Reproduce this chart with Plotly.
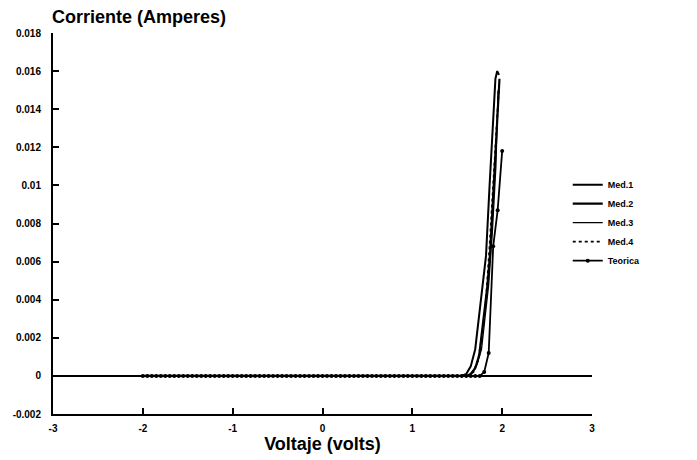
import plotly.graph_objects as go

# ---- data ----
base_v = [-2.0, -1.5, -1.0, -0.5, 0.0, 0.5, 1.0, 1.5]
base_i = [0.0] * len(base_v)

med1_v = base_v + [1.55, 1.60, 1.65, 1.70, 1.745, 1.79, 1.82, 1.86, 1.90, 1.925, 1.945, 1.965]
med1_i = base_i + [0.0, 0.0001, 0.0005, 0.0014, 0.0032, 0.0050, 0.0063, 0.0100, 0.0138, 0.0156, 0.0160, 0.0158]

med2_v = base_v + [1.60, 1.65, 1.70, 1.745, 1.79, 1.835, 1.865, 1.905, 1.945, 1.97]
med2_i = base_i + [0.0, 0.0001, 0.0004, 0.0011, 0.0028, 0.0047, 0.0064, 0.0100, 0.0136, 0.0156]

med3_v = base_v + [1.62, 1.67, 1.72, 1.77, 1.81, 1.85, 1.89, 1.93, 1.955]
med3_i = base_i + [0.0, 0.0002, 0.0006, 0.0014, 0.0030, 0.0048, 0.0075, 0.0110, 0.0150]

med4_v = base_v + [1.62, 1.68, 1.73, 1.78, 1.82, 1.86, 1.90, 1.94, 1.965]
med4_i = base_i + [0.0, 0.0002, 0.0008, 0.0022, 0.0040, 0.0068, 0.0102, 0.0136, 0.0152]

teo_v = [-2.0, -1.95, -1.9, -1.85, -1.8, -1.75, -1.7, -1.65, -1.6, -1.55, -1.5, -1.45, -1.4,
         -1.35, -1.3, -1.25, -1.2, -1.15, -1.1, -1.05, -1.0, -0.95, -0.9, -0.85, -0.8, -0.75,
         -0.7, -0.65, -0.6, -0.55, -0.5, -0.45, -0.4, -0.35, -0.3, -0.25, -0.2, -0.15, -0.1,
         -0.05, 0.0, 0.05, 0.1, 0.15, 0.2, 0.25, 0.3, 0.35, 0.4, 0.45, 0.5, 0.55, 0.6, 0.65,
         0.7, 0.75, 0.8, 0.85, 0.9, 0.95, 1.0, 1.05, 1.1, 1.15, 1.2, 1.25, 1.3, 1.35, 1.4,
         1.45, 1.5, 1.55, 1.6, 1.65, 1.7, 1.75, 1.8, 1.85, 1.9, 1.95, 2.0]
teo_i = [0.0] * 75 + [0.0, 0.0002, 0.0012, 0.0068, 0.0087, 0.0118]

x_ticks = [-3, -2, -1, 0, 1, 2, 3]
y_ticks = [0.018, 0.016, 0.014, 0.012, 0.01, 0.008, 0.006, 0.004, 0.002, 0, -0.002]
y_labels = ["0.018", "0.016", "0.014", "0.012", "0.01", "0.008", "0.006", "0.004", "0.002", "0", "-0.002"]

FONT = "Liberation Sans, Arial, sans-serif"

fig = go.Figure()
fig.add_trace(go.Scatter(x=med1_v, y=med1_i, name="Med.1", mode="lines",
                         line=dict(color="black", width=2)))
fig.add_trace(go.Scatter(x=med2_v, y=med2_i, name="Med.2", mode="lines",
                         line=dict(color="black", width=2.2)))
fig.add_trace(go.Scatter(x=med3_v, y=med3_i, name="Med.3", mode="lines",
                         line=dict(color="black", width=1.3)))
fig.add_trace(go.Scatter(x=med4_v, y=med4_i, name="Med.4", mode="lines",
                         line=dict(color="black", width=1.8, dash="dot")))
fig.add_trace(go.Scatter(x=teo_v, y=teo_i, name="Teorica", mode="lines+markers",
                         line=dict(color="black", width=1.8),
                         marker=dict(color="black", size=4)))

fig.update_layout(
    width=697, height=460,
    margin=dict(l=53, r=105, t=33, b=46),
    paper_bgcolor="white", plot_bgcolor="white",
    font=dict(family=FONT, color="black"),
    showlegend=True,
    legend=dict(x=0.955, y=0.64, xanchor="left", yanchor="top",
                font=dict(family=FONT, size=9, weight="bold"),
                bgcolor="rgba(0,0,0,0)", itemwidth=30, tracegroupgap=0),
    annotations=[
        dict(text="Corriente (Amperes)", xref="paper", yref="paper", x=0, y=1,
             xanchor="left", yanchor="bottom", yshift=4, xshift=-3, showarrow=False,
             font=dict(family=FONT, size=18, weight="bold", color="black")),
    ],
)

fig.update_xaxes(
    range=[-3, 3], tickvals=x_ticks, ticktext=[str(t) for t in x_ticks],
    showgrid=False, zeroline=False, showline=True, linecolor="black", linewidth=2,
    ticks="inside", ticklen=6, tickwidth=1.5, tickcolor="black", ticklabelstandoff=4,
    tickfont=dict(family=FONT, size=10, weight="bold"),
    title=dict(text="Voltaje (volts)", font=dict(family=FONT, size=18, weight="bold"), standoff=2),
)
fig.update_yaxes(
    range=[-0.002, 0.018], tickvals=y_ticks, ticktext=y_labels,
    showgrid=False, zeroline=True, zerolinecolor="black", zerolinewidth=1.5,
    showline=True, linecolor="black", linewidth=2,
    ticks="inside", ticklen=6, tickwidth=1.5, tickcolor="black", ticklabelstandoff=8,
    tickfont=dict(family=FONT, size=10, weight="bold"),
)

fig.write_html("out.html")
